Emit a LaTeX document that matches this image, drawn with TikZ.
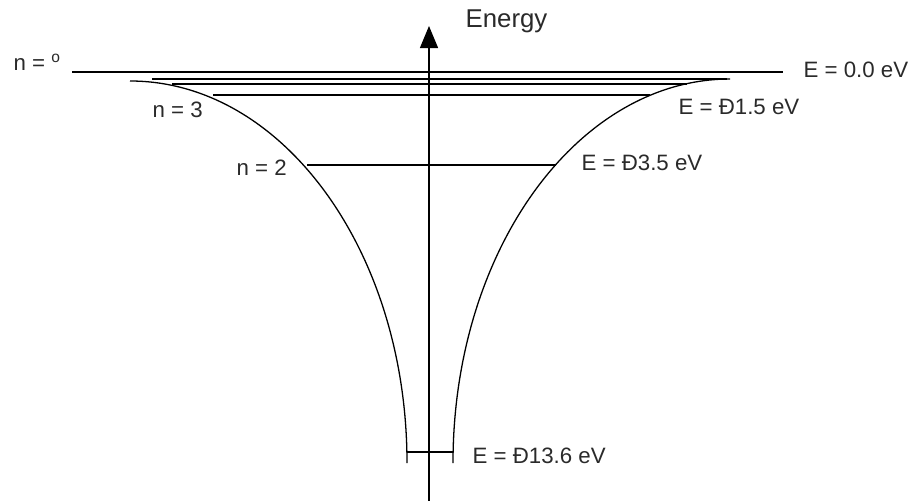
\documentclass[tikz,border=0pt]{standalone}
\usepackage{fontspec}
\setmainfont{Liberation Sans}
\usetikzlibrary{arrows.meta}
\definecolor{ink}{HTML}{2A2A2A}

\begin{document}
\begin{tikzpicture}[x=0.03cm,y=-0.03cm,line width=1.1pt,
  lbl/.style={anchor=base west,inner sep=0pt,text=ink,font=\fontsize{19}{22}\selectfont}]
  \useasboundingbox (0,0) rectangle (912,501);
  % energy levels
  \draw (72,72)--(783,72);
  \foreach \y/\a/\b in {79/152/727,84/172/687,95/213/650,165/307/556,452/407/453} {
    \draw (\a,\y)--(\b,\y);
  }
  % potential well
  \coordinate (wellL) at (130,81);
  \coordinate (wellR) at (730,79);
  \coordinate (footL) at (407,463);
  \coordinate (footR) at (453,463);
  \draw (wellL) .. controls (283,81) and (407,252) .. (footL);
  \draw (wellR) .. controls (578,79) and (453,250) .. (footR);
  % axis
  \coordinate (axbot) at (429,501);
  \coordinate (axtop) at (429,26);
  \draw[-{Triangle[length=0.66cm,width=0.54cm]}] (axbot)--(axtop);
  \node[lbl,font=\fontsize{22}{26}\selectfont] (energy) at (465,27){Energy};
  % labels
  \node[lbl] (ninf) at (13,70){n = \textsuperscript{o}};
  \node[lbl] (nthree) at (152,117){n = 3};
  \node[lbl] (ntwo) at (236,175){n = 2};
  \node[lbl] (ezero) at (803,77){E = 0.0 eV};
  \node[lbl] (ethree) at (678,114){E = Ð1.5 eV};
  \node[lbl] (etwo) at (581,170){E = Ð3.5 eV};
  \node[lbl] (eone) at (472,463){E = Ð13.6 eV};
\end{tikzpicture}
\end{document}
